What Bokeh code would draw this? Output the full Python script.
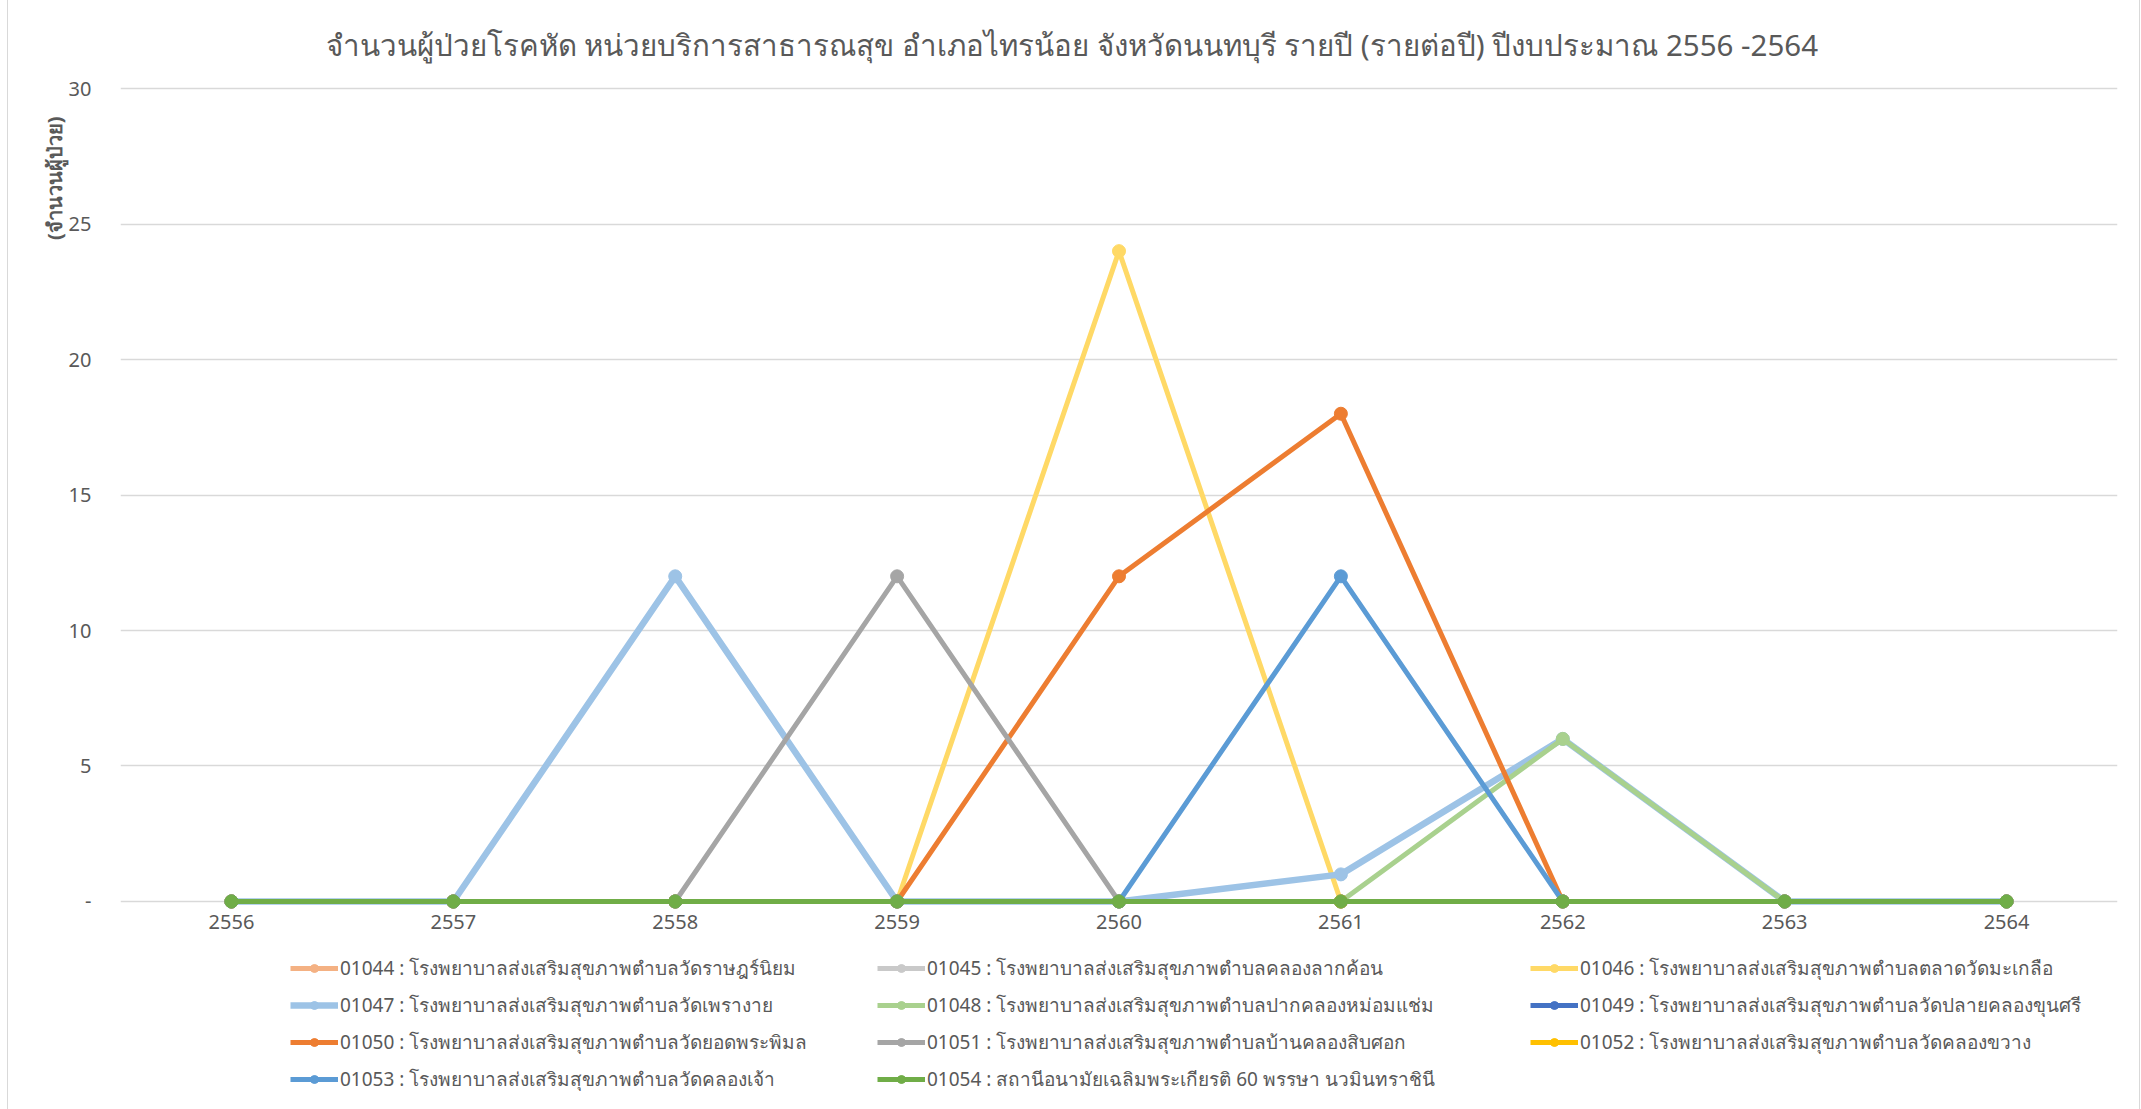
from bokeh.plotting import figure
from bokeh.models import Range1d, FactorRange, FixedTicker, Legend, LegendItem, Title
from bokeh.embed import file_html
from bokeh.resources import INLINE

years = ["2556", "2557", "2558", "2559", "2560", "2561", "2562", "2563", "2564"]

names = [
    "01044 : โรงพยาบาลส่งเสริมสุขภาพตำบลวัดราษฎร์นิยม",
    "01045 : โรงพยาบาลส่งเสริมสุขภาพตำบลคลองลากค้อน",
    "01046 : โรงพยาบาลส่งเสริมสุขภาพตำบลตลาดวัดมะเกลือ",
    "01047 : โรงพยาบาลส่งเสริมสุขภาพตำบลวัดเพรางาย",
    "01048 : โรงพยาบาลส่งเสริมสุขภาพตำบลปากคลองหม่อมแช่ม",
    "01049 : โรงพยาบาลส่งเสริมสุขภาพตำบลวัดปลายคลองขุนศรี",
    "01050 : โรงพยาบาลส่งเสริมสุขภาพตำบลวัดยอดพระพิมล",
    "01051 : โรงพยาบาลส่งเสริมสุขภาพตำบลบ้านคลองสิบศอก",
    "01052 : โรงพยาบาลส่งเสริมสุขภาพตำบลวัดคลองขวาง",
    "01053 : โรงพยาบาลส่งเสริมสุขภาพตำบลวัดคลองเจ้า",
    "01054 : สถานีอนามัยเฉลิมพระเกียรติ 60 พรรษา นวมินทราชินี",
]

s01044 = [0, 0, 0, 0, 0, 0, 0, 0, 0]
s01045 = [0, 0, 0, 0, 0, 0, 0, 0, 0]
s01046 = [0, 0, 0, 0, 24, 0, 0, 0, 0]
s01047 = [0, 0, 12, 0, 0, 1, 6, 0, 0]
s01048 = [0, 0, 0, 0, 0, 0, 6, 0, 0]
s01049 = [0, 0, 0, 0, 0, 0, 0, 0, 0]
s01050 = [0, 0, 0, 0, 12, 18, 0, 0, 0]
s01051 = [0, 0, 0, 12, 0, 0, 0, 0, 0]
s01052 = [0, 0, 0, 0, 0, 0, 0, 0, 0]
s01053 = [0, 0, 0, 0, 0, 12, 0, 0, 0]
s01054 = [0, 0, 0, 0, 0, 0, 0, 0, 0]

series = [s01044, s01045, s01046, s01047, s01048, s01049,
          s01050, s01051, s01052, s01053, s01054]
colors = ["#F4B183", "#C9C9C9", "#FFD966", "#9DC3E6", "#A9D18E", "#4472C4",
          "#ED7D31", "#A5A5A5", "#FFC000", "#5B9BD5", "#70AD47"]

y_ticks = [0, 5, 10, 15, 20, 25, 30]

title_text = "จำนวนผู้ป่วยโรคหัด หน่วยบริการสาธารณสุข อำเภอไทรน้อย จังหวัดนนทบุรี รายปี (รายต่อปี) ปีงบประมาณ 2556 -2564"
y_title = "(จำนวนผู้ป่วย)"

FONT = "Noto Sans"
TXT = "#595959"

p = figure(width=2133, height=1109, x_range=FactorRange(*years, range_padding=0),
           y_range=Range1d(-7.16, 30.26), output_backend="svg", toolbar_location=None,
           min_border_left=112, min_border_right=24, min_border_top=81,
           min_border_bottom=14)
p.outline_line_color = None
p.background_fill_color = "white"
p.styles = {"margin-left": "7px", "box-sizing": "border-box",
            "border-left": "1px solid #D9D9D9", "border-right": "1px solid #D9D9D9"}

p.title.text = title_text
p.title.align = "left"
p.title.text_font = FONT
p.title.text_font_size = "29.5px"
p.title.text_font_style = "normal"
p.title.text_color = TXT
p.title.offset = 205
p.title.standoff = 34

ytitle = Title(text=y_title, align="right", offset=35, standoff=-5,
               text_font=FONT, text_font_size="20px", text_font_style="bold",
               text_color=TXT)
p.add_layout(ytitle, "left")

p.xgrid.grid_line_color = None
p.ygrid.grid_line_color = "#D9D9D9"
p.ygrid.grid_line_width = 1.5

p.yaxis.ticker = FixedTicker(ticks=y_ticks)
p.yaxis.major_label_overrides = {0: "-"}
p.yaxis.axis_line_color = None
p.yaxis.major_tick_line_color = None
p.yaxis.minor_tick_line_color = None
p.yaxis.major_label_standoff = 23
p.yaxis.major_label_text_font = FONT
p.yaxis.major_label_text_font_size = "20px"
p.yaxis.major_label_text_color = TXT

p.xaxis.fixed_location = 0
p.xaxis.axis_line_color = None
p.xaxis.major_tick_line_color = None
p.xaxis.minor_tick_line_color = None
p.xaxis.major_label_standoff = 8
p.xaxis.major_label_text_font = FONT
p.xaxis.major_label_text_font_size = "20px"
p.xaxis.major_label_text_color = TXT

items = []
for name, vals, col in zip(names, series, colors):
    lw = 6.5 if col == "#9DC3E6" else 5
    r1 = p.line(years, vals, line_color=col, line_width=lw)
    r2 = p.scatter(years, vals, marker="circle", size=13, fill_color=col, line_color=col)
    items.append(LegendItem(label=name, renderers=[r1, r2]))

# three legend columns, items filled row by row as in the reference
col_x = [170, 757, 1410]
for c in range(3):
    col_items = items[c::3]
    bottom = 1 + 37 * (4 - len(col_items))
    lg = Legend(items=col_items, location=(col_x[c], bottom), border_line_color=None,
                background_fill_alpha=0, label_text_font=FONT,
                label_text_font_size="19px", label_text_color=TXT,
                glyph_width=48, glyph_height=20, label_height=20,
                label_standoff=2, spacing=7, padding=0, margin=0)
    p.add_layout(lg, "center")

open("out.html", "w").write(file_html(p, INLINE))
